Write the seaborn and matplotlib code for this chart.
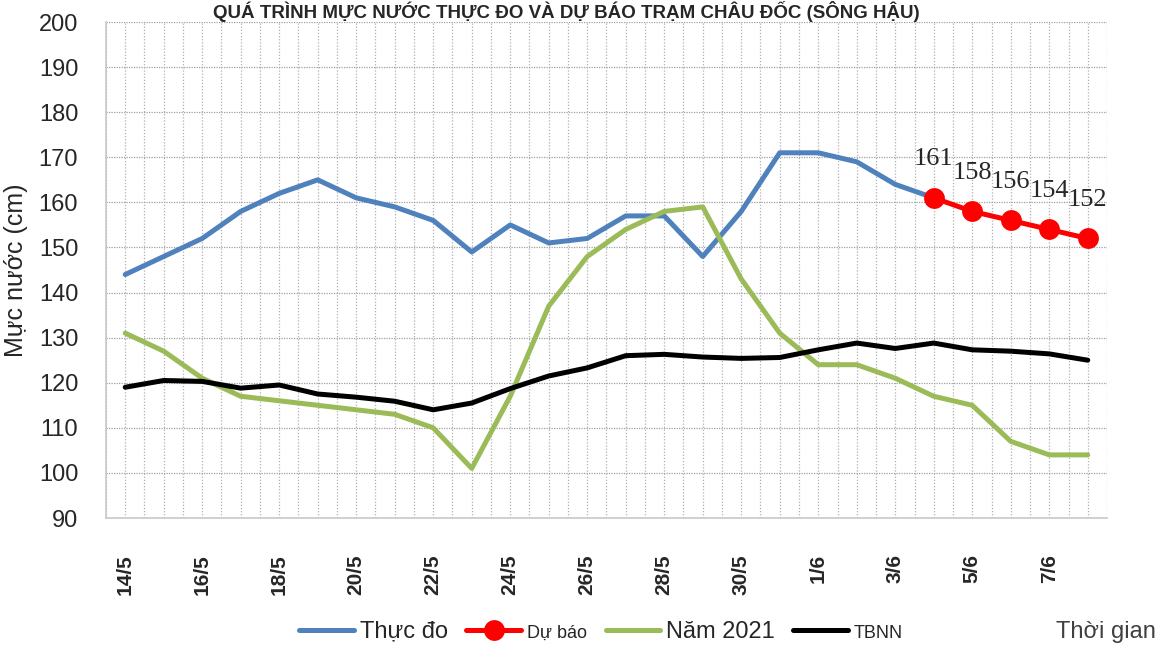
import numpy as np
import pandas as pd
import seaborn as sns
import matplotlib.pyplot as plt
from matplotlib.ticker import MultipleLocator

sns.set_theme(style="white")
plt.rcParams['font.family'] = ['Liberation Sans', 'DejaVu Sans']

# Data
days = ["14/5", "15/5", "16/5", "17/5", "18/5", "19/5", "20/5", "21/5", "22/5", "23/5",
        "24/5", "25/5", "26/5", "27/5", "28/5", "29/5", "30/5", "31/5", "1/6", "2/6",
        "3/6", "4/6", "5/6", "6/6", "7/6", "8/6"]
thuc_do = [144, 148, 152, 158, 162, 165, 161, 159, 156, 149, 155, 151, 152, 157, 157,
           148, 158, 171, 171, 169, 164, 161]
du_bao = [161, 158, 156, 154, 152]
nam_2021 = [131, 127, 121, 117, 116, 115, 114, 113, 110, 101, 117, 137, 148, 154, 158,
            159, 143, 131, 124, 124, 121, 117, 115, 107, 104, 104]
tbnn = [119, 120.5, 120.3, 118.8, 119.5, 117.5, 116.8, 115.9, 114, 115.5, 118.7, 121.5,
        123.3, 126, 126.3, 125.7, 125.4, 125.6, 127.3, 128.8, 127.6, 128.8, 127.3, 127,
        126.4, 125]

idx = np.arange(len(days))
df_td = pd.DataFrame({"x": idx[:len(thuc_do)], "y": thuc_do})
df_db = pd.DataFrame({"x": idx[len(thuc_do) - 1:], "y": du_bao})
df_21 = pd.DataFrame({"x": idx, "y": nam_2021})
df_tb = pd.DataFrame({"x": idx, "y": tbnn})

fig = plt.figure(figsize=(11.67, 6.48), dpi=100)
ax = fig.add_axes([0.0908, 0.2006, 0.8578, 0.7654])

sns.lineplot(data=df_td, x="x", y="y", ax=ax, color="#4F81BD", lw=3.6, label="Thực đo")
sns.lineplot(data=df_db, x="x", y="y", ax=ax, color="#FF0000", lw=3.6, marker="o",
             markersize=15, markeredgewidth=0, label="Dự báo")
sns.lineplot(data=df_21, x="x", y="y", ax=ax, color="#9BBB59", lw=3.6, label="Năm 2021")
sns.lineplot(data=df_tb, x="x", y="y", ax=ax, color="black", lw=3.6, label="TBNN")

for xi, v in zip(df_db["x"], df_db["y"]):
    ax.annotate(str(v), (xi, v), xytext=(0, 20), textcoords="offset points",
                ha="center", va="bottom", fontsize=19, family=["Liberation Serif", "DejaVu Serif"])

ax.set_xlim(-0.5, len(days) - 0.5)
ax.set_ylim(90, 200)
ax.yaxis.set_major_locator(MultipleLocator(10))
ax.set_xticks(idx[::2][:13])
ax.set_xticklabels(days[::2][:13], rotation=90, fontsize=15, fontweight="bold")
ax.xaxis.set_minor_locator(MultipleLocator(0.5))
ax.tick_params(axis="y", length=0, pad=20, labelsize=17)
ax.tick_params(axis="x", which="both", length=0, pad=26)
ax.grid(True, axis="y", which="major", color="#a0a0a0", ls=(0, (1, 1)), lw=0.9)
ax.grid(True, axis="x", which="both", color="#b0b0b0", ls=(0, (1, 1.5)), lw=0.9)
ax.set_xlabel("")
ax.set_ylabel("Mực nước (cm)", fontsize=18, labelpad=8)
for s in ["top", "right"]:
    ax.spines[s].set_visible(False)
for s in ["left", "bottom"]:
    ax.spines[s].set_color("#c8c8c8")
    ax.spines[s].set_linewidth(1.2)

ax.get_legend().remove()
handles, labels = ax.get_legend_handles_labels()
leg = fig.legend(handles, labels, loc="center", bbox_to_anchor=(0.515, 0.025), ncol=4,
                 frameon=False, handlelength=2.3, handletextpad=0.25, columnspacing=0.8,
                 fontsize=17)
for t, fs in zip(leg.get_texts(), [17, 13, 17, 13]):
    t.set_fontsize(fs)

fig.text(0.948, 0.025, "Thời gian", ha="center", va="center", fontsize=17, color="#404040")
fig.text(0.485, 0.999, "QUÁ TRÌNH MỰC NƯỚC THỰC ĐO VÀ DỰ BÁO TRẠM CHÂU ĐỐC (SÔNG HẬU)",
         ha="center", va="top", fontsize=13.5, fontweight="bold")

fig.savefig("out.png", dpi=100)
